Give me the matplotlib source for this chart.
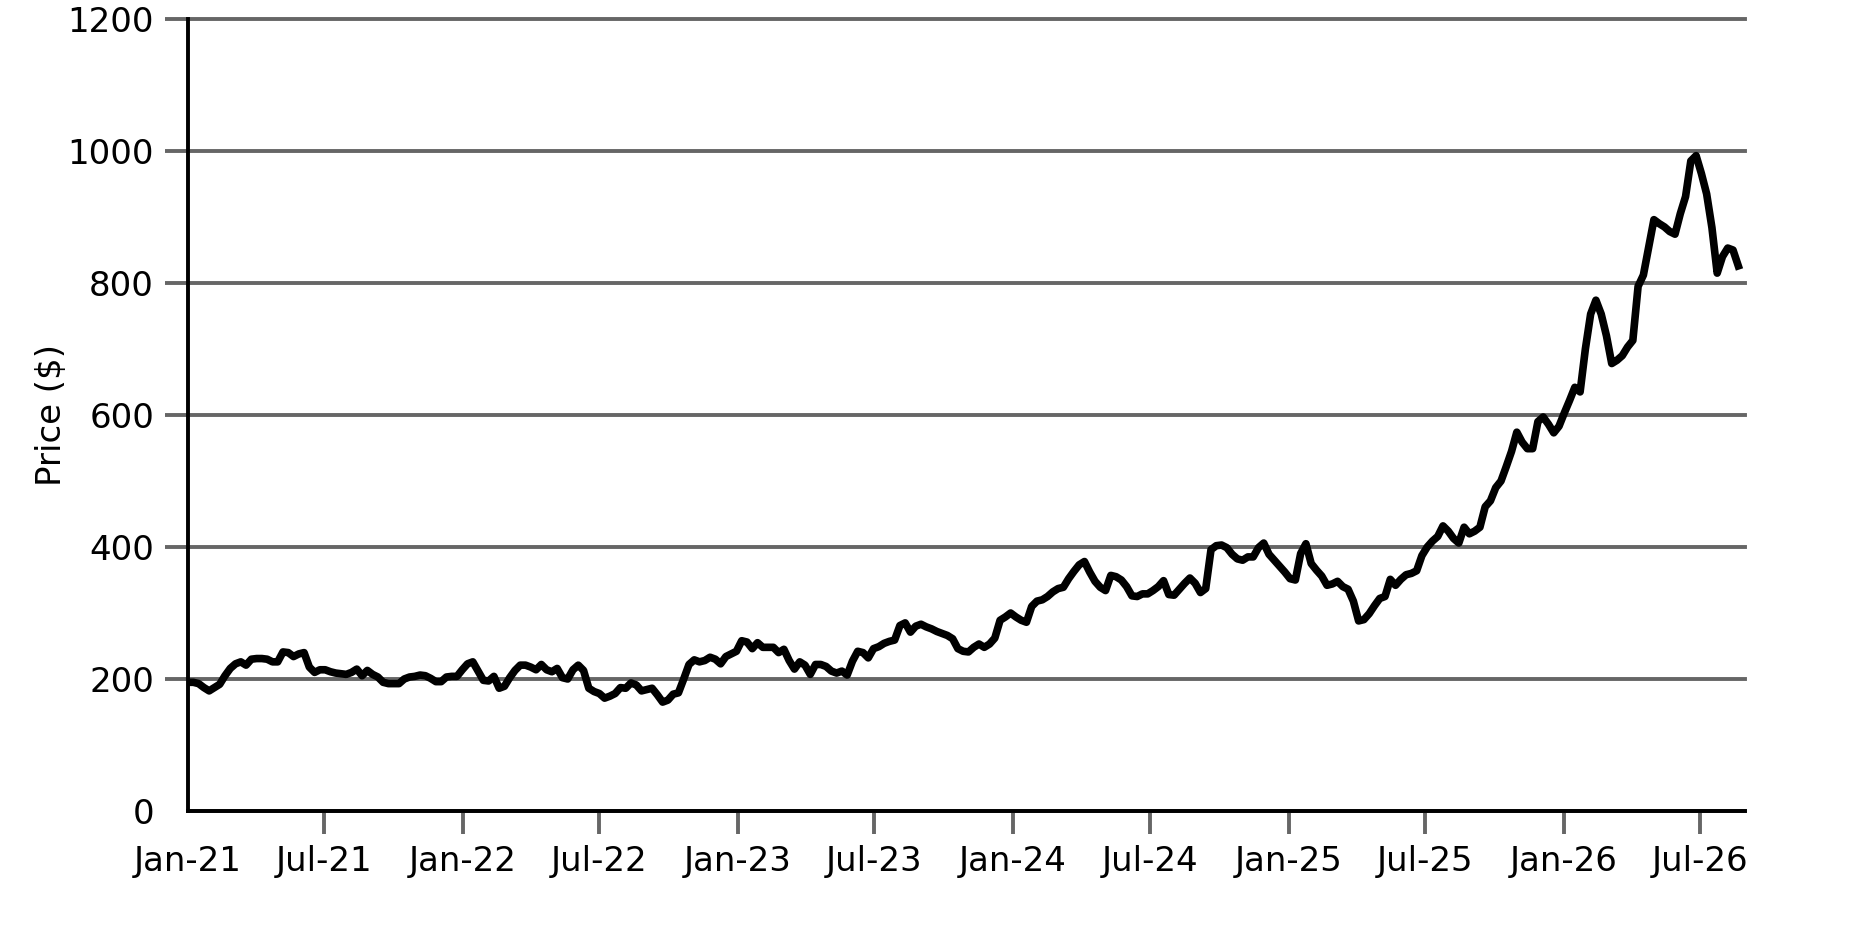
import pandas as pd
import matplotlib
matplotlib.use('Agg')
import matplotlib.pyplot as plt
import matplotlib.dates as mdates

# weekly closing price
start_date = '2021-01-01'
end_date = '2026-08-30'
prices_2021 = [195, 195, 193, 187, 182, 187, 192, 205, 216, 223,
               226, 221, 230, 231, 231, 230, 226, 226, 241, 240,
               234, 238, 240, 218, 210, 214, 214, 211, 209, 208,
               207, 210, 215, 205, 213, 207, 203, 195, 193, 193,
               193, 200, 203, 204, 206, 205, 201, 196, 196, 203,
               204, 204, 214]
prices_2022 = [223, 226, 212, 198, 197, 204, 186, 189, 202, 213,
               221, 221, 218, 214, 222, 214, 211, 216, 202, 200,
               214, 221, 213, 186, 181, 178, 171, 174, 178, 187,
               186, 194, 191, 182, 184, 186, 176, 165, 168, 177,
               179, 200, 222, 229, 226, 228, 233, 230, 223, 234,
               238, 242]
prices_2023 = [258, 256, 246, 255, 248, 248, 248, 240, 245, 228,
               215, 226, 221, 207, 222, 222, 219, 212, 209, 212,
               206, 227, 242, 240, 232, 246, 249, 254, 257, 259,
               281, 285, 271, 280, 283, 279, 276, 272, 269, 266,
               261, 246, 242, 241, 248, 253, 248, 253, 262, 289,
               294, 300]
prices_2024 = [294, 289, 286, 310, 318, 320, 325, 332, 337, 339,
               352, 363, 373, 378, 362, 348, 339, 334, 357, 355,
               350, 340, 326, 325, 329, 329, 334, 340, 349, 328,
               327, 336, 345, 353, 345, 331, 337, 396, 402, 403,
               399, 389, 382, 380, 385, 385, 399, 406, 389, 380,
               371, 362, 352]
prices_2025 = [350, 390, 405, 375, 365, 356, 342, 344, 348, 340,
               336, 318, 288, 290, 299, 311, 322, 325, 351, 342,
               351, 358, 360, 364, 387, 400, 409, 416, 432, 424,
               413, 406, 430, 420, 424, 430, 461, 470, 490, 500,
               522, 545, 574, 559, 549, 549, 590, 597, 586, 573,
               583, 603]
prices_2026 = [622, 642, 635, 700, 753, 774, 753, 720, 678, 683,
               690, 703, 713, 795, 812, 854, 896, 890, 885, 878,
               874, 905, 931, 985, 993, 966, 935, 884, 815, 840,
               853, 850, 826]

prices = (prices_2021 + prices_2022 + prices_2023 + prices_2024
          + prices_2025 + prices_2026)
dates = pd.date_range(start_date, periods=len(prices), freq='7D')

grid_grey = '#666666'

fig = plt.figure(figsize=(18.75, 9.38), dpi=100)
ax = fig.add_axes([0.1003, 0.1354, 0.8304, 0.8443])

ax.plot(dates, prices, color='black', linewidth=5.5, zorder=3)

ax.set_xlim(pd.Timestamp(start_date), pd.Timestamp(end_date))
ax.set_ylim(0, 1200)
ax.set_yticks(range(0, 1201, 200))
ax.xaxis.set_major_locator(mdates.MonthLocator(bymonth=[1, 7]))
ax.xaxis.set_major_formatter(mdates.DateFormatter('%b-%y'))

ax.grid(axis='y', color=grid_grey, linewidth=2.8)
ax.set_axisbelow(True)
for gl in ax.get_ygridlines():
    gl.set_clip_on(False)

for side in ['top', 'right']:
    ax.spines[side].set_visible(False)
for side in ['left', 'bottom']:
    ax.spines[side].set_color('black')
    ax.spines[side].set_linewidth(2.8)

ax.tick_params(axis='both', colors=grid_grey, labelcolor='black',
               length=16.5, width=2.8, labelsize=24.5, pad=8)

# no tick mark at the origin on either axis
fig.canvas.draw()
ax.xaxis.get_major_ticks()[0].tick1line.set_visible(False)
ax.yaxis.get_major_ticks()[0].tick1line.set_visible(False)
for gl in ax.get_ygridlines():
    gl.set_clip_on(False)

ax.set_ylabel('Price ($)', fontsize=24.5, labelpad=0)

fig.savefig('out.png', dpi=100)
